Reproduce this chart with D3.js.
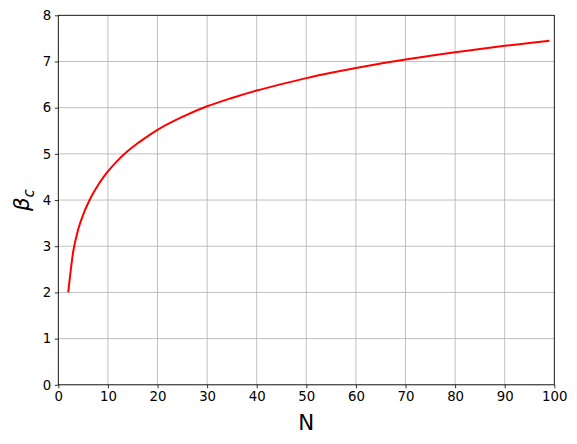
<!DOCTYPE html>
<html>
<head>
<meta charset="utf-8">
<script src="https://cdn.jsdelivr.net/npm/d3@7"></script>
<style>
  body { margin: 0; background: #fff; }
  svg { display: block; font-family: "DejaVu Sans", sans-serif; }
</style>
</head>
<body>
<div id="chart"></div>
<script>
// values
const nValues = [2, 3, 4, 5, 6, 7, 8, 9, 10, 12, 14, 16, 18, 20, 25, 30, 35, 40, 45, 50,
  55, 60, 65, 70, 75, 80, 85, 90, 95, 99];
const betaValues = [2.0, 2.88, 3.36, 3.68, 3.93, 4.14, 4.32, 4.48, 4.62, 4.86, 5.06, 5.23, 5.38, 5.52,
  5.8, 6.03, 6.21, 6.37, 6.51, 6.64, 6.755, 6.86, 6.955, 7.045, 7.125, 7.2, 7.27, 7.34, 7.4, 7.45];
const xTicks = [0, 10, 20, 30, 40, 50, 60, 70, 80, 90, 100];
const yTicks = [0, 1, 2, 3, 4, 5, 6, 7, 8];

const width = 577, height = 444;
const margin = { top: 15.3, right: 22.7, bottom: 59.2, left: 58.3 };
const innerW = width - margin.left - margin.right;
const innerH = height - margin.top - margin.bottom;

const svg = d3.select('#chart').append('svg')
  .attr('width', width)
  .attr('height', height);

const g = svg.append('g').attr('transform', `translate(${margin.left},${margin.top})`);

const x = d3.scaleLinear().domain([0, 100]).range([0, innerW]);
const y = d3.scaleLinear().domain([0, 8]).range([innerH, 0]);

// grid
g.append('g')
  .selectAll('line')
  .data(xTicks)
  .join('line')
  .attr('x1', d => x(d)).attr('x2', d => x(d))
  .attr('y1', 0).attr('y2', innerH)
  .attr('stroke', '#b0b0b0').attr('stroke-width', 0.8);
g.append('g')
  .selectAll('line')
  .data(yTicks)
  .join('line')
  .attr('y1', d => y(d)).attr('y2', d => y(d))
  .attr('x1', 0).attr('x2', innerW)
  .attr('stroke', '#b0b0b0').attr('stroke-width', 0.8);

// curve
const data = nValues.map((n, i) => ({ n, beta: betaValues[i] }));
g.append('path')
  .datum(data)
  .attr('fill', 'none')
  .attr('stroke', 'red')
  .attr('stroke-width', 2)
  .attr('d', d3.line().x(d => x(d.n)).y(d => y(d.beta)).curve(d3.curveMonotoneX));

// axes
const xAxis = g.append('g')
  .attr('transform', `translate(0,${innerH})`)
  .call(d3.axisBottom(x).tickValues(xTicks).tickSize(3.5).tickPadding(3.5).tickFormat(d3.format('d')));
const yAxis = g.append('g')
  .call(d3.axisLeft(y).tickValues(yTicks).tickSize(3.5).tickPadding(3.5).tickFormat(d3.format('d')));

for (const ax of [xAxis, yAxis]) {
  ax.select('.domain').remove();
  ax.selectAll('.tick line').attr('stroke', '#000').attr('stroke-width', 0.8);
  ax.selectAll('.tick text')
    .attr('fill', '#000')
    .style('font-size', '13.3px')
    .style('font-family', '"DejaVu Sans", sans-serif');
}

// frame
g.append('rect')
  .attr('width', innerW).attr('height', innerH)
  .attr('fill', 'none').attr('stroke', '#000').attr('stroke-width', 0.8);

// labels
svg.append('text')
  .attr('x', margin.left + innerW / 2)
  .attr('y', 430)
  .attr('text-anchor', 'middle')
  .style('font-size', '21.3px')
  .text('N');

const yl = svg.append('text')
  .attr('transform', `translate(29,${margin.top + innerH / 2}) rotate(-90)`)
  .attr('text-anchor', 'middle')
  .style('font-size', '21.3px');
yl.append('tspan').style('font-style', 'italic').text('β');
yl.append('tspan').style('font-style', 'italic').style('font-size', '15px').attr('dy', 5).text('c');
</script>
</body>
</html>
